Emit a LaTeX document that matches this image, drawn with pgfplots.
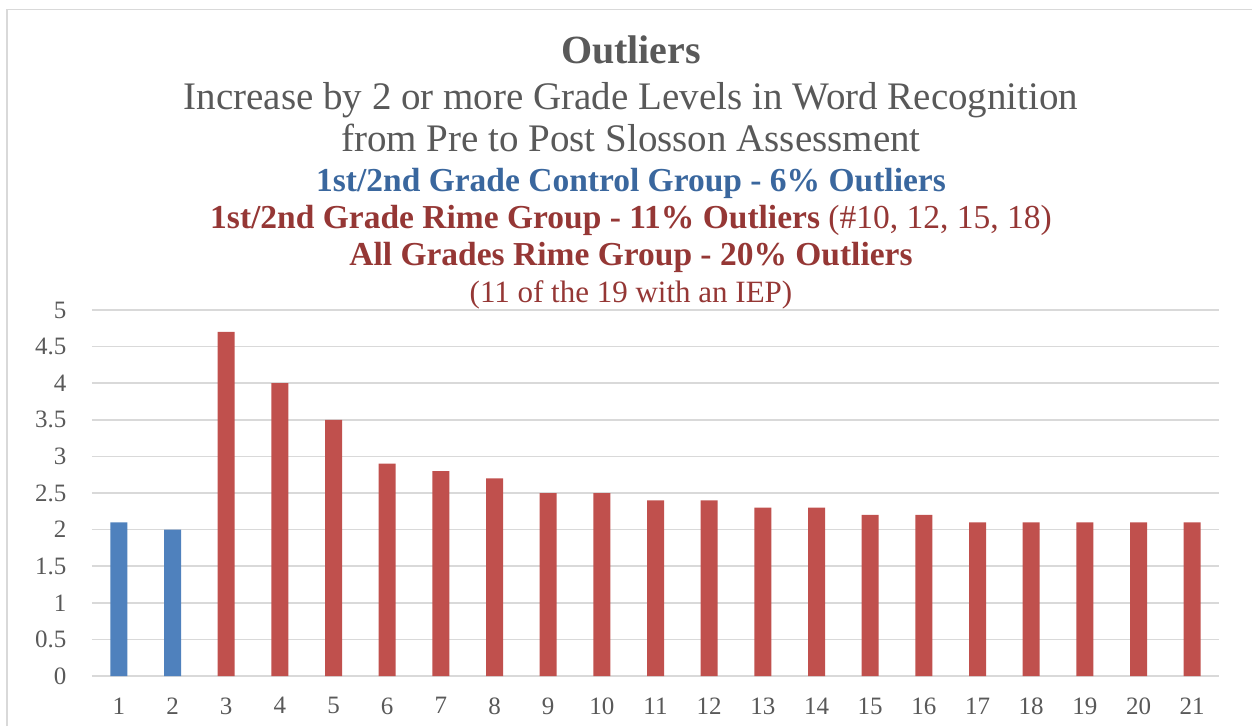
\documentclass[border=0pt]{standalone}
\usepackage{pgfplots}
\pgfplotsset{compat=1.18}
\usepackage{fontspec}
\setmainfont{Liberation Serif}
\definecolor{barblue}{HTML}{4F81BD}
\definecolor{barred}{HTML}{C0504D}
\definecolor{tblue}{HTML}{3A679E}
\definecolor{tred}{HTML}{953735}
\definecolor{tgray}{HTML}{595959}
\definecolor{gridgray}{HTML}{D9D9D9}
\begin{document}
\begin{tikzpicture}[x=1pt,y=1pt]
\path[use as bounding box] (0,0) rectangle (1252,726);
\draw[gridgray, line width=1.5pt] (7,0) -- (7,716.5) -- (1252,716.5);
\begin{axis}[
  at={(92pt,50pt)}, anchor=origin,
  scale only axis, width=1127pt, height=366pt,
  xmin=0.5, xmax=21.5, ymin=0, ymax=5,
  xtick={1,...,21}, ytick={0,0.5,...,5},
  yticklabels={0,0.5,1,1.5,2,2.5,3,3.5,4,4.5,5},
  ymajorgrids, grid style={gridgray, line width=1.5pt},
  axis x line*=bottom, axis y line*=left,
  x axis line style={gridgray, line width=1.5pt, -},
  y axis line style={draw=none},
  major tick length=0pt,
  tick label style={font=\fontsize{25}{29}\selectfont, text=tgray},
  /pgf/number format/assume math mode=true,
  xticklabel style={yshift=-18pt},
  yticklabel style={xshift=-22pt},
  ybar, bar width=17pt, bar shift=0pt,
  clip=false,
]
\addplot[fill=barblue, draw=none] coordinates {(1,2.1) (2,2.0)};
\addplot[fill=barred, draw=none] coordinates {
(3,4.7) (4,4.0) (5,3.5) (6,2.9) (7,2.8) (8,2.7) (9,2.5) (10,2.5) (11,2.4)
(12,2.4) (13,2.3) (14,2.3) (15,2.2) (16,2.2) (17,2.1) (18,2.1) (19,2.1)
(20,2.1) (21,2.1)};
\end{axis}
\node[anchor=base, text=tgray, font=\fontsize{40}{44}\selectfont\bfseries] at (631,662.5) {Outliers};
\node[anchor=base, text=tgray, font=\fontsize{39}{43}\selectfont] at (631,616.5) {Increase by 2 or more Grade Levels in Word Recognition};
\node[anchor=base, text=tgray, font=\fontsize{39}{43}\selectfont] at (631,574.5) {from Pre to Post Slosson Assessment};
\node[anchor=base, text=tblue, font=\fontsize{33.5}{37}\selectfont\bfseries] at (631,534) {1st/2nd Grade Control Group - 6\% Outliers};
\node[anchor=base, text=tred, font=\fontsize{33.5}{37}\selectfont] at (631,497) {\textbf{1st/2nd Grade Rime Group - 11\% Outliers} (\#10, 12, 15, 18)};
\node[anchor=base, text=tred, font=\fontsize{33.5}{37}\selectfont\bfseries] at (631,460) {All Grades Rime Group - 20\% Outliers};
\node[anchor=base, text=tred, font=\fontsize{31}{35}\selectfont] at (631,423) {(11 of the 19 with an IEP)};
\end{tikzpicture}
\end{document}
